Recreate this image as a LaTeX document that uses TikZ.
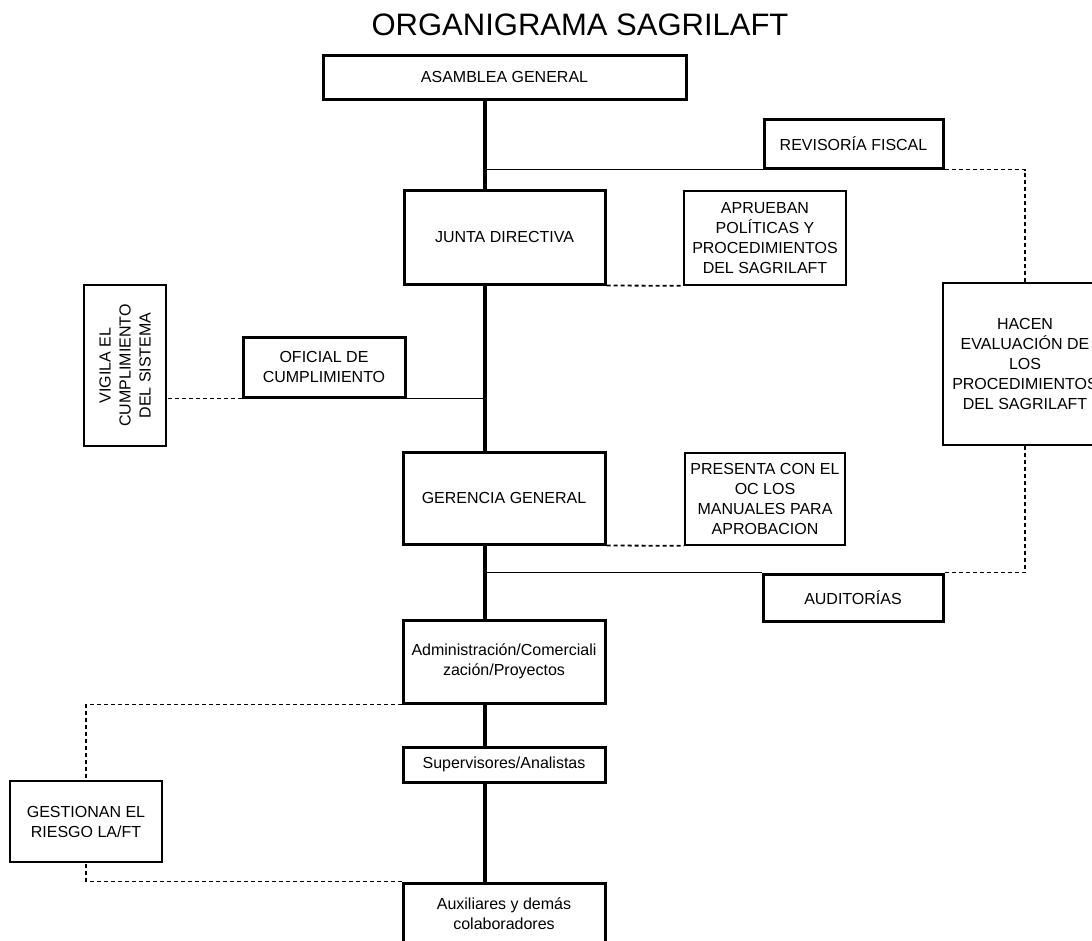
\documentclass[tikz,border=0pt]{standalone}
\usepackage{fontspec}
\setmainfont{Liberation Sans}
\begin{document}
\begin{tikzpicture}[x=1pt,y=-1pt,
  lbl/.style={font=\fontsize{16}{20}\selectfont, align=center, inner sep=0pt},
  thickbox/.style={lbl, draw, line width=3pt},
  thinbox/.style={lbl, draw, line width=1.6pt},
  spineline/.style={line width=4.5pt},
  midline/.style={line width=3.5pt},
  thinline/.style={line width=1.6pt},
  dotline/.style={line width=1.8pt, dash pattern=on 4pt off 3pt}]
\clip (0,0) rectangle (1092,940);
\fill[white] (0,0) rectangle (1092,940);
\coordinate (spine) at (485,0);

\node[font=\fontsize{31}{36}\selectfont, anchor=base, inner sep=0pt] (title) at (580,35) {ORGANIGRAMA SAGRILAFT};

\node[thickbox, minimum width=363pt, minimum height=44pt] (asamblea) at (504.5,77) {ASAMBLEA GENERAL};
\node[thickbox, minimum width=179pt, minimum height=49pt] (revisoria) at (853.5,143.5) {REVISORÍA FISCAL};
\node[thickbox, minimum width=201pt, minimum height=94pt] (junta) at (504.5,237) {JUNTA DIRECTIVA};
\node[thinbox, minimum width=162pt, minimum height=94pt] (aprueban) at (765,238) {APRUEBAN\\POLÍTICAS Y\\PROCEDIMIENTOS\\DEL SAGRILAFT};
\node[thickbox, minimum width=162pt, minimum height=60pt] (oficial) at (324,367) {OFICIAL DE\\CUMPLIMIENTO};
\node[thinbox, minimum width=82pt, minimum height=161pt] (vigila) at (125,365.5) {};
\node[lbl, rotate=90] (vigilatext) at (vigila.center) {VIGILA EL\\CUMPLIMIENTO\\DEL SISTEMA};
\node[thinbox, minimum width=164pt, minimum height=162pt] (hacen) at (1025,364) {HACEN\\EVALUACIÓN DE\\LOS\\PROCEDIMIENTOS\\DEL SAGRILAFT};
\node[thickbox, minimum width=202pt, minimum height=92pt] (gerencia) at (504,498) {GERENCIA GENERAL};
\node[thinbox, minimum width=160pt, minimum height=92pt] (presenta) at (765,499) {PRESENTA CON EL\\OC LOS\\MANUALES PARA\\APROBACION};
\node[thickbox, minimum width=180pt, minimum height=47pt] (auditorias) at (853,597.5) {AUDITORÍAS};
\node[thickbox, minimum width=202pt, minimum height=83pt] (admin) at (504,661.5) {Administración/Comerciali\\zación/Proyectos};
\node[thickbox, minimum width=202pt, minimum height=35pt] (sup) at (504,764.5) {Supervisores/Analistas};
\node[thickbox, minimum width=202pt, minimum height=62pt] (aux) at (504,914) {Auxiliares y demás\\colaboradores};
\node[thinbox, minimum width=152pt, minimum height=81pt] (gestionan) at (86,821.5) {GESTIONAN EL\\RIESGO LA/FT};

% solid connectors
\draw[spineline] (asamblea.south -| spine) -- (junta.north -| spine);
\draw[spineline] (junta.south -| spine) -- (gerencia.north -| spine);
\draw[spineline] (gerencia.south -| spine) -- (admin.north -| spine);
\draw[midline] (admin.south -| spine) -- (sup.north -| spine);
\draw[midline] (sup.south -| spine) -- (aux.north -| spine);
\draw[thinline] (spine |- revisoria.south west) -- (revisoria.south west);
\draw[thinline] (oficial.south east) -- (spine |- oficial.south east);
\draw[thinline] (spine |- auditorias.north west) -- (auditorias.north west);

% dashed connectors
\draw[dotline] (junta.south east) -- (aprueban.south west);
\draw[dotline] (revisoria.south east) -| (hacen.north);
\draw[dotline] (oficial.south west) -- (vigila.east |- oficial.south west);
\draw[dotline] (gerencia.south east) -- (presenta.south west);
\draw[dotline] (auditorias.north east) -| (hacen.south);
\draw[dotline] (admin.south west) -| (gestionan.north);
\draw[dotline] (aux.north west) -| (gestionan.south);
\end{tikzpicture}
\end{document}
